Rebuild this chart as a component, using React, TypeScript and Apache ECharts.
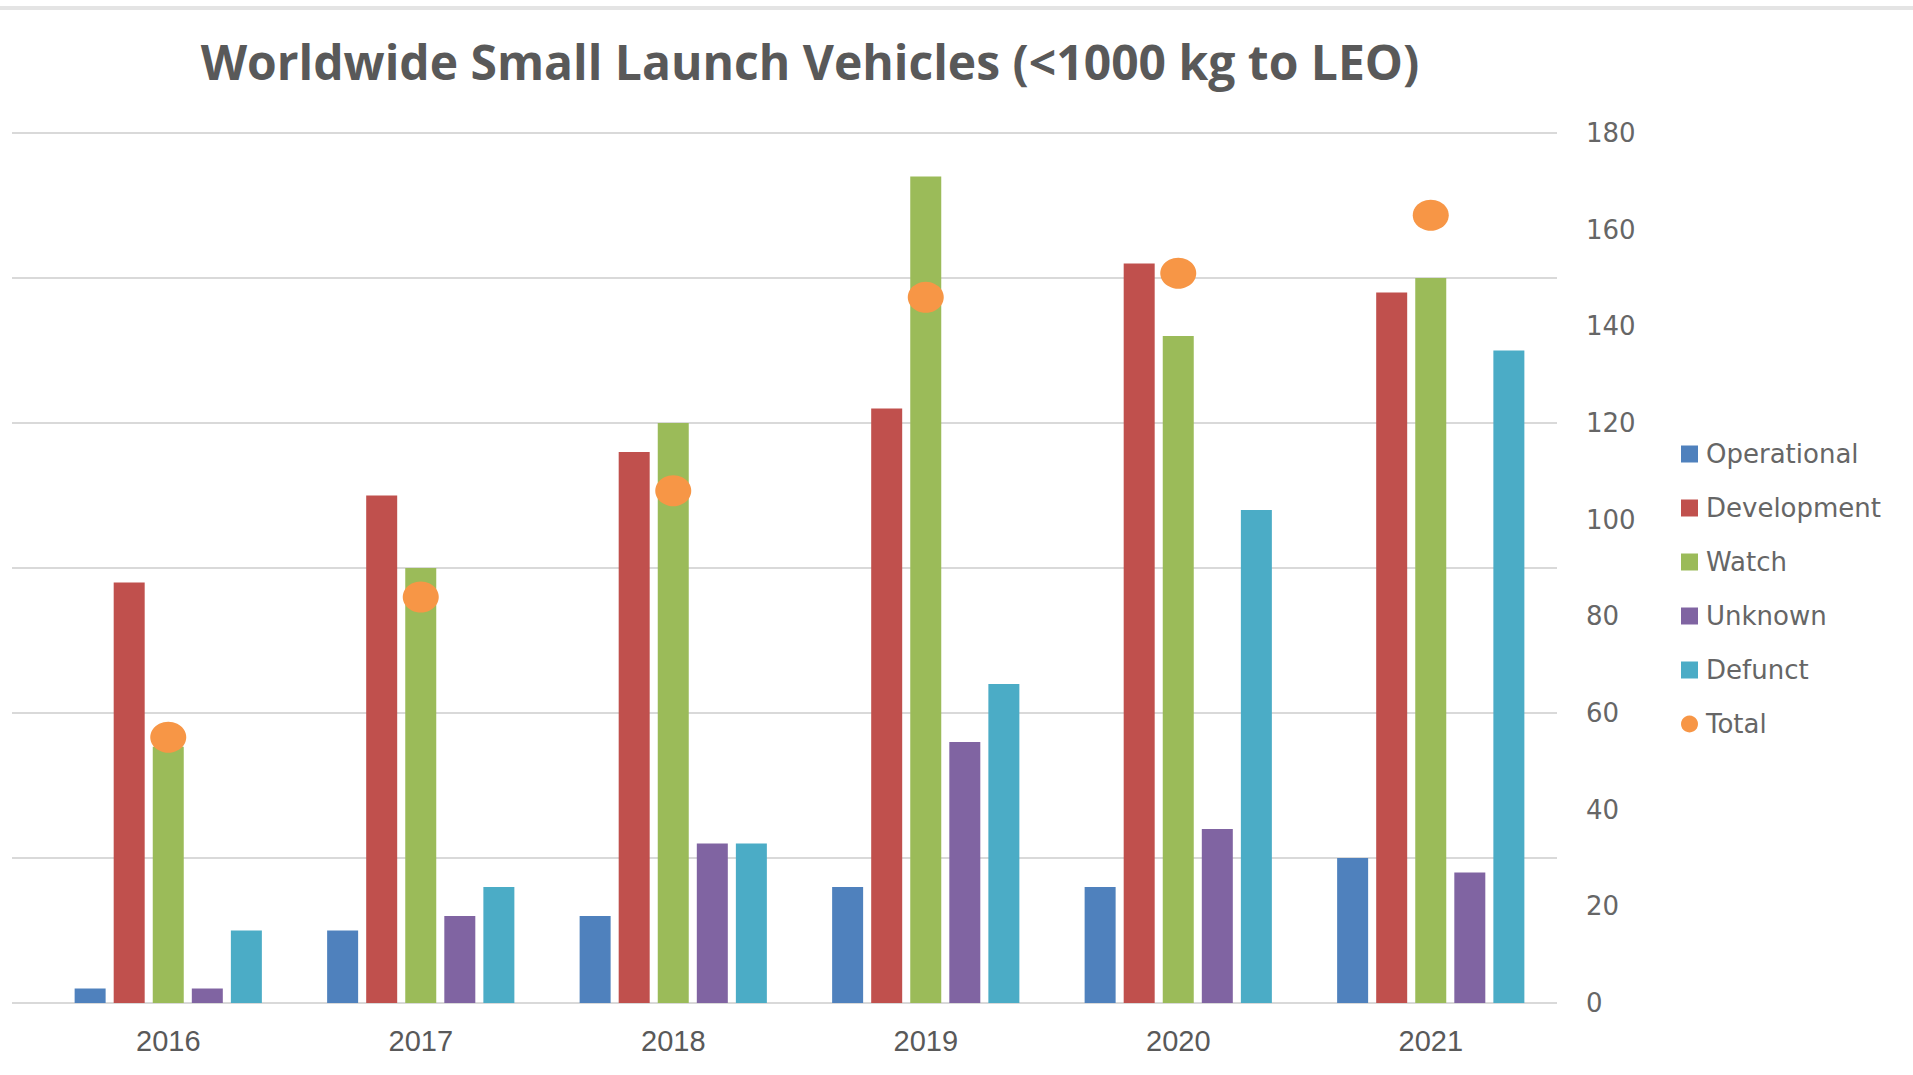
import React, { useEffect, useRef } from "react";
import * as echarts from "echarts";

const years = ["2016", "2017", "2018", "2019", "2020", "2021"];
const operational = [3, 15, 18, 24, 24, 30];
const development = [87, 105, 114, 123, 153, 147];
const watch = [53, 90, 120, 171, 138, 150];
const unknown = [3, 18, 33, 54, 36, 27];
const defunct = [15, 24, 33, 66, 102, 135];
const total = [55, 84, 106, 146, 151, 163];

const titleText = "Worldwide Small Launch Vehicles (<1000 kg to LEO)";

export default function App() {
  const ref = useRef<HTMLDivElement>(null);
  useEffect(() => {
    if (!ref.current) return;
    const chart = echarts.init(ref.current, undefined, { renderer: "svg" });
    const barCommon = {
      type: "bar",
      xAxisIndex: 1,
      yAxisIndex: 1,
      barWidth: 31,
      barGap: "26%",
    };
    chart.setOption({
      animation: false,
      backgroundColor: "#ffffff",
      title: {
        text: titleText,
        left: 805,
        top: 32,
        textAlign: "center",
        textStyle: {
          fontFamily: "Open Sans",
          fontWeight: "bold",
          fontSize: 48,
          color: "#595959",
        },
      },
      graphic: [
        {
          type: "rect",
          shape: { x: 0, y: 6, width: 1913, height: 4 },
          style: { fill: "#e4e4e4" },
          silent: true,
        },
      ],
      legend: {
        orient: "vertical",
        left: 1676,
        top: 436,
        itemWidth: 17,
        itemHeight: 17,
        itemGap: 28,
        textStyle: {
          fontFamily: "DejaVu Sans",
          fontSize: 26,
          color: "#666666",
          lineHeight: 26,
          padding: [0, 0, 0, 3],
        },
        data: [
          { name: "Operational", icon: "rect" },
          { name: "Development", icon: "rect" },
          { name: "Watch", icon: "rect" },
          { name: "Unknown", icon: "rect" },
          { name: "Defunct", icon: "rect" },
          { name: "Total", icon: "circle" },
        ],
      },
      grid: [
        { left: 12, right: 356, top: 133, bottom: 72 },
        { left: 42, right: 356, top: 133, bottom: 72 },
      ],
      xAxis: [
        {
          type: "category",
          gridIndex: 0,
          data: years,
          show: false,
        },
        {
          type: "category",
          gridIndex: 1,
          data: years,
          axisLine: { show: false },
          axisTick: { show: false },
          axisLabel: {
            margin: 23,
            fontFamily: "Liberation Sans",
            fontSize: 29,
            color: "#595959",
          },
        },
      ],
      yAxis: [
        {
          type: "value",
          gridIndex: 0,
          min: 0,
          max: 180,
          interval: 30,
          axisLabel: { show: false },
          axisLine: { show: false },
          axisTick: { show: false },
          splitLine: { show: true, lineStyle: { color: "#d9d9d9", width: 2 } },
        },
        {
          type: "value",
          gridIndex: 1,
          position: "right",
          min: 0,
          max: 180,
          interval: 20,
          axisLine: { show: false },
          axisTick: { show: false },
          splitLine: { show: false },
          axisLabel: {
            margin: 29,
            fontFamily: "DejaVu Sans",
            fontSize: 26,
            color: "#666666",
          },
        },
      ],
      series: [
        { ...barCommon, name: "Operational", data: operational, itemStyle: { color: "#4f81bd" } },
        { ...barCommon, name: "Development", data: development, itemStyle: { color: "#c0504d" } },
        { ...barCommon, name: "Watch", data: watch, itemStyle: { color: "#9bbb59" } },
        { ...barCommon, name: "Unknown", data: unknown, itemStyle: { color: "#8064a2" } },
        { ...barCommon, name: "Defunct", data: defunct, itemStyle: { color: "#4bacc6" } },
        {
          type: "scatter",
          name: "Total",
          xAxisIndex: 1,
          yAxisIndex: 1,
          data: total,
          symbol: "circle",
          symbolSize: [36, 31],
          itemStyle: { color: "#f79646", opacity: 1 },
          z: 5,
        },
      ],
    });
    return () => chart.dispose();
  }, []);
  return (
    <div
      ref={ref}
      style={{ position: "fixed", left: 0, top: 0, width: 1913, height: 1075 }}
    />
  );
}
